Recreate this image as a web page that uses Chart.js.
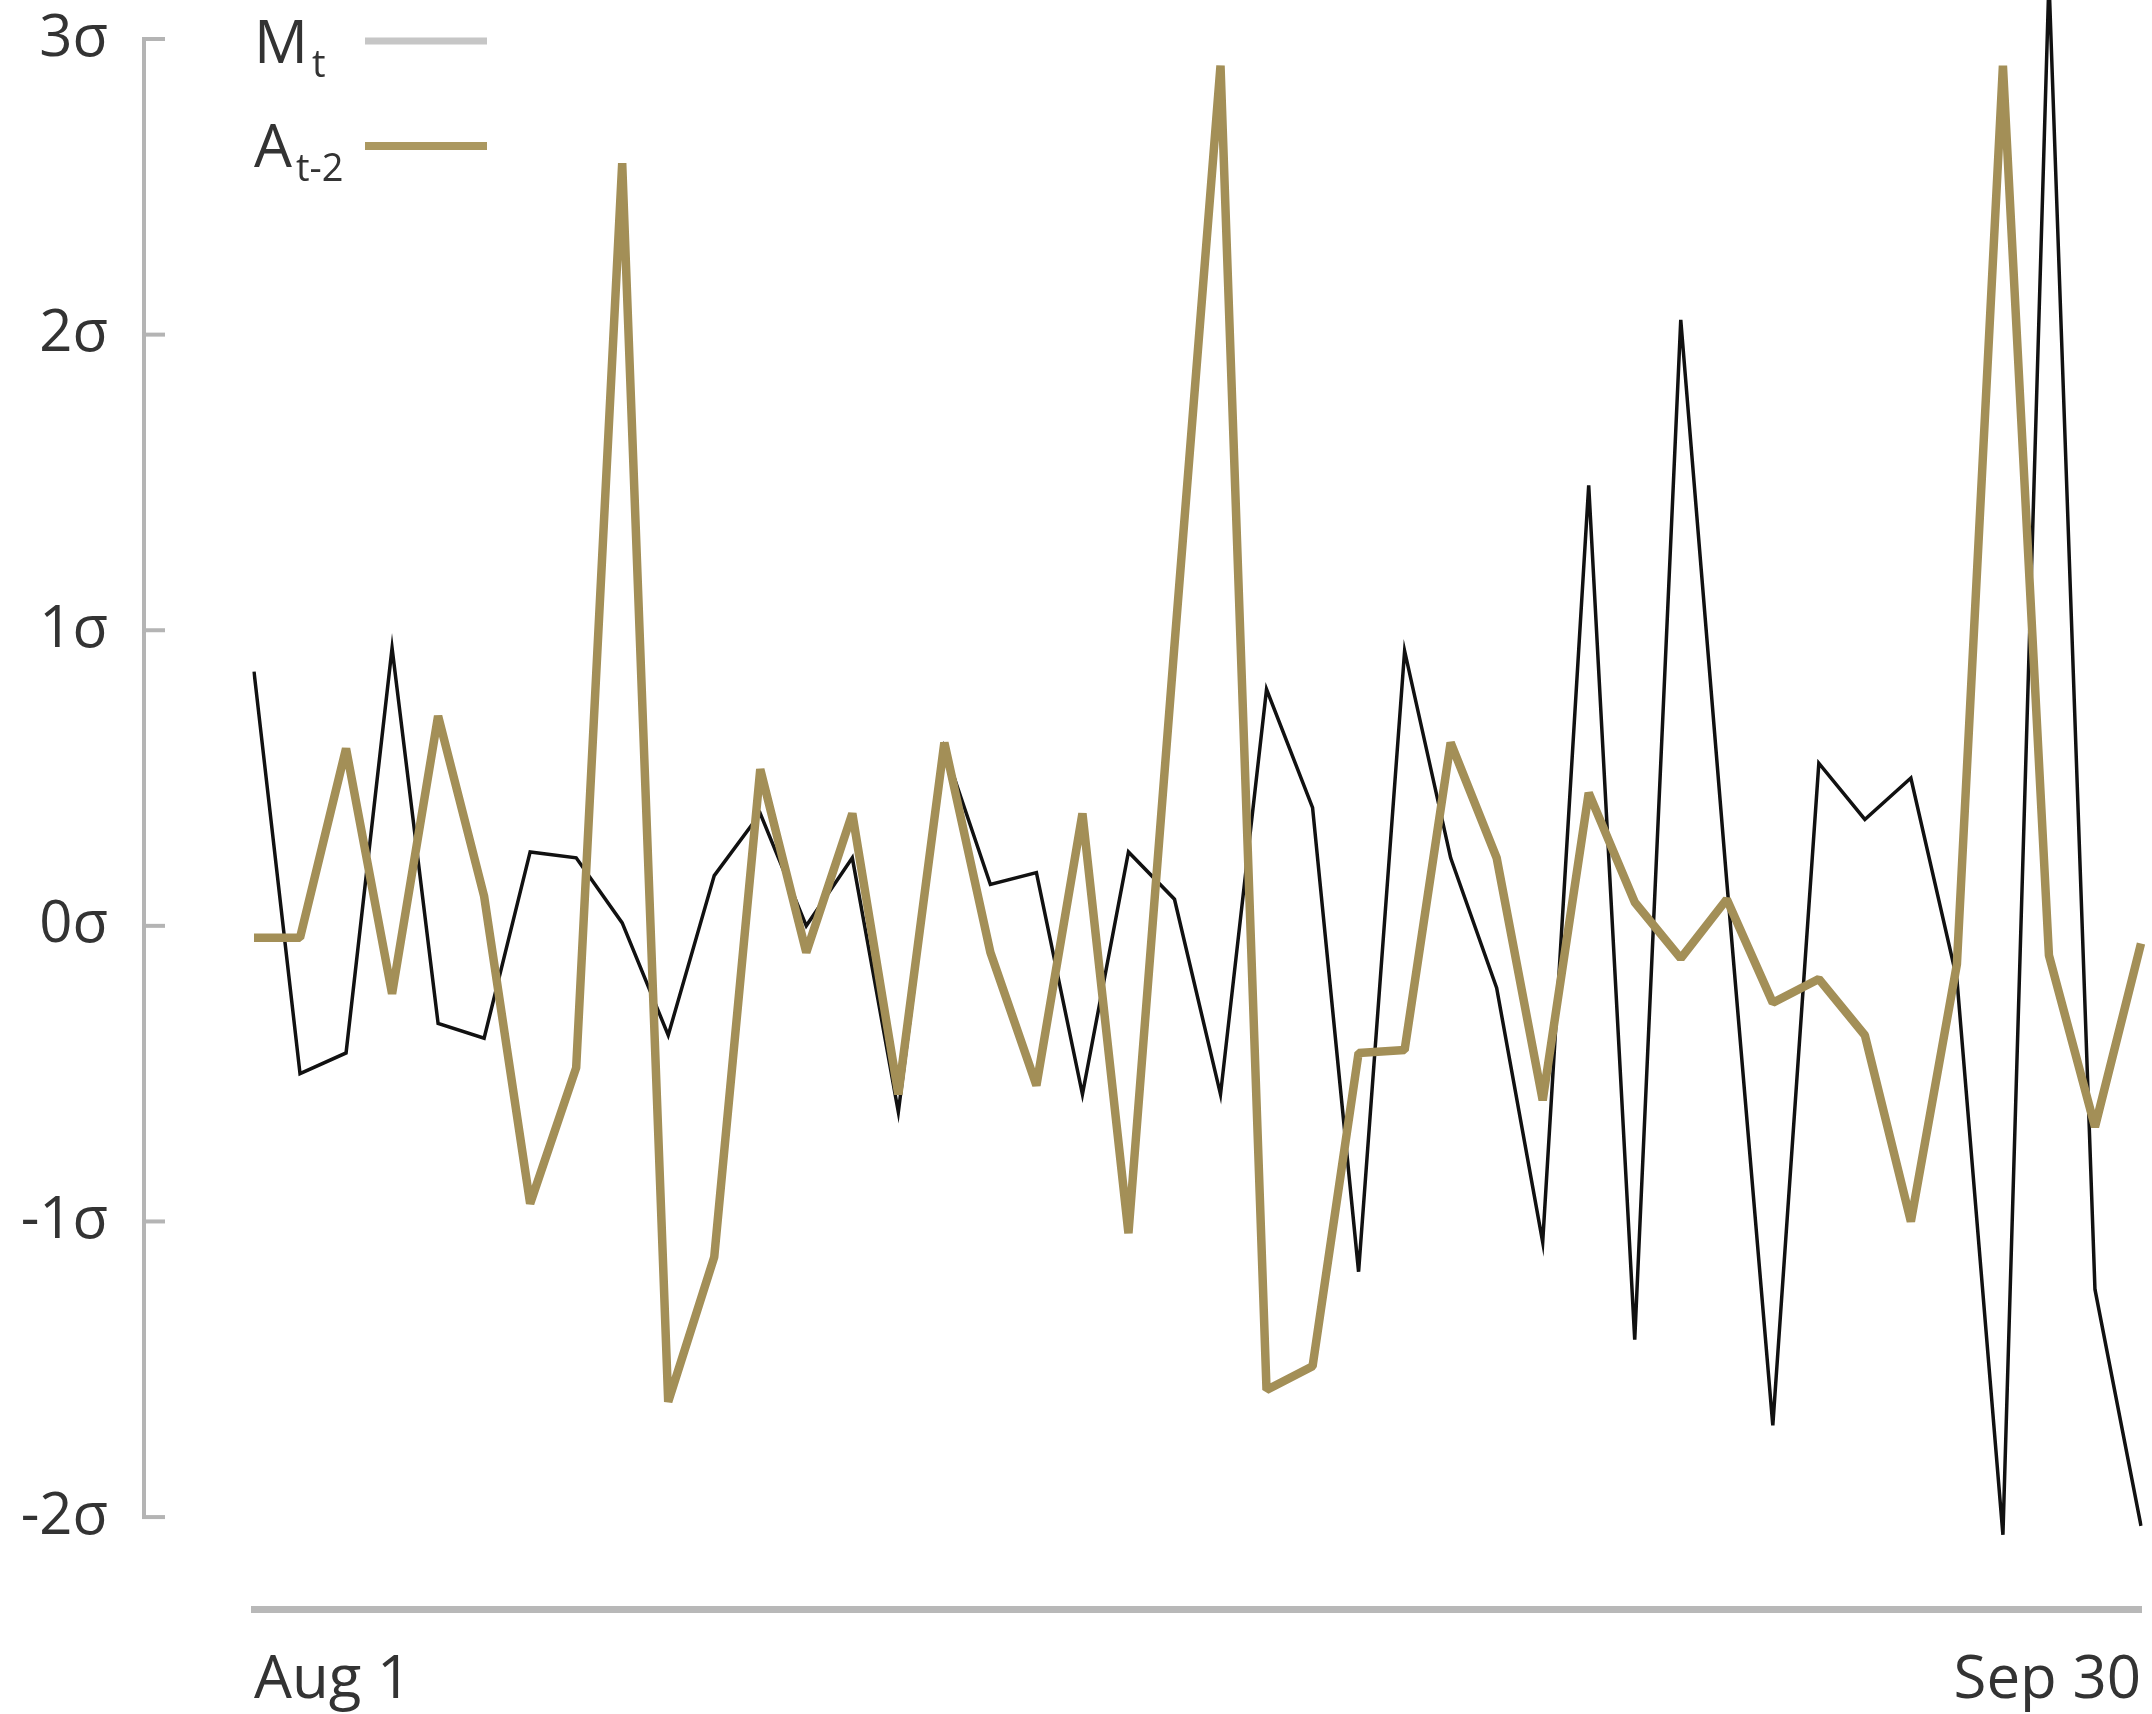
<!DOCTYPE html>
<html>
<head>
<meta charset="utf-8">
<script src="https://cdn.jsdelivr.net/npm/chart.js@4/dist/chart.umd.min.js"></script>
<style>
  html, body { margin: 0; padding: 0; background: #fff; }
  canvas { display: block; }
</style>
</head>
<body>
<canvas id="chart" width="2152" height="1714"></canvas>
<script>
/* data */
const categories = Array.from({ length: 42 }, (_, i) => i);
const xTickLabels = ['Aug 1', 'Sep 30'];
const yTicks = [-2, -1, 0, 1, 2, 3];

// M_t  (black, thin)
const mt = [
  0.86, -0.50, -0.43, 0.94, -0.33, -0.38, 0.25, 0.23, 0.01, -0.37,
  0.17, 0.38, 0.00, 0.23, -0.63, 0.60, 0.14, 0.18, -0.57, 0.25,
  0.09, -0.57, 0.80, 0.40, -1.17, 0.93, 0.23, -0.21, -1.07, 1.49,
  -1.40, 2.05, 0.15, -1.69, 0.55, 0.36, 0.50, -0.18, -2.06, 3.20,
  -1.23, -2.03
];

// A_{t-2}  (gold, thick)
const at2 = [
  -0.04, -0.04, 0.60, -0.23, 0.71, 0.10, -0.94, -0.48, 2.58, -1.61,
  -1.12, 0.53, -0.09, 0.38, -0.57, 0.62, -0.09, -0.54, 0.38, -1.04,
  0.95, 2.91, -1.57, -1.49, -0.43, -0.42, 0.62, 0.23, -0.59, 0.45,
  0.08, -0.11, 0.09, -0.26, -0.18, -0.37, -1.00, -0.13, 2.91, -0.10,
  -0.68, -0.06
];

const GOLD = '#a38f57';
const FONT = '"Open Sans", "DejaVu Sans", sans-serif';

/* y axis line + short inner ticks, drawn left of the plot */
const yAxisLine = {
  id: 'yAxisLine',
  afterDraw(chart) {
    const { ctx } = chart;
    const y = chart.scales.y;
    const x0 = 144;
    ctx.save();
    ctx.strokeStyle = '#b4b4b4';
    ctx.lineWidth = 4;
    ctx.beginPath();
    ctx.moveTo(x0, y.getPixelForValue(yTicks[yTicks.length - 1]) - 2);
    ctx.lineTo(x0, y.getPixelForValue(yTicks[0]) + 2);
    ctx.stroke();
    yTicks.forEach(v => {
      const py = y.getPixelForValue(v);
      ctx.beginPath();
      ctx.moveTo(x0 - 2, py);
      ctx.lineTo(165, py);
      ctx.stroke();
    });
    ctx.restore();
  }
};

/* legend: label first, then line sample */
const legendBox = {
  id: 'legendBox',
  afterDraw(chart) {
    const { ctx } = chart;
    const items = [
      { main: 'M', sub: 't', color: '#c6c6c6', width: 7, base: 63, lineY: 41 },
      { main: 'A', sub: 't-2', color: '#ab9860', width: 8, base: 167, lineY: 146 },
    ];
    ctx.save();
    ctx.fillStyle = '#333';
    ctx.textBaseline = 'alphabetic';
    items.forEach(it => {
      ctx.font = '60px ' + FONT;
      ctx.fillText(it.main, 254, it.base);
      const w = ctx.measureText(it.main).width;
      ctx.font = '38px ' + FONT;
      ctx.fillText(it.sub, 254 + w + 4, it.base + 14);
      ctx.strokeStyle = it.color;
      ctx.lineWidth = it.width;
      ctx.beginPath();
      ctx.moveTo(365, it.lineY);
      ctx.lineTo(487, it.lineY);
      ctx.stroke();
    });
    ctx.restore();
  }
};

const data = {
  labels: categories,
  datasets: [
    {
      label: 'M_t',
      data: mt,
      borderColor: '#111',
      borderWidth: 3.5,
      pointRadius: 0,
      tension: 0,
      order: 2,
    },
    {
      label: 'A_t-2',
      data: at2,
      borderColor: GOLD,
      borderWidth: 8.5,
      borderJoinStyle: 'bevel',
      pointRadius: 0,
      tension: 0,
      order: 1,
    },
  ],
};

const config = {
  type: 'line',
  data,
  options: {
    responsive: false,
    animation: false,
    devicePixelRatio: 1,
    layout: { padding: { left: 0, right: 11, top: 0, bottom: 0 } },
    plugins: {
      legend: { display: false },
      tooltip: { enabled: false },
    },
    scales: {
      x: {
        offset: false,
        grid: { display: false },
        border: { display: true, color: '#b8b8b8', width: 7 },
        ticks: {
          autoSkip: false,
          maxRotation: 0,
          align: 'inner',
          padding: 28,
          color: '#333',
          font: { family: FONT, size: 60 },
          callback: (v, i) => i === 0 ? xTickLabels[0] : (i === categories.length - 1 ? xTickLabels[1] : ''),
        },
        afterFit(scale) {
          scale.height = 105;
          scale.paddingLeft = 0;
          scale.paddingRight = 0;
        },
      },
      y: {
        min: -2.311,
        max: 3.132,
        grid: { display: false },
        border: { display: false },
        afterBuildTicks(scale) {
          scale.ticks = yTicks.map(v => ({ value: v }));
        },
        ticks: {
          padding: 138,
          color: '#333',
          font: { family: FONT, size: 58 },
          callback: v => v + 'σ',
        },
        afterFit(scale) {
          scale.width = 254;
          scale.paddingTop = 0;
          scale.paddingBottom = 0;
        },
      },
    },
  },
  plugins: [yAxisLine, legendBox],
};

new Chart(document.getElementById('chart').getContext('2d'), config);
</script>
</body>
</html>
